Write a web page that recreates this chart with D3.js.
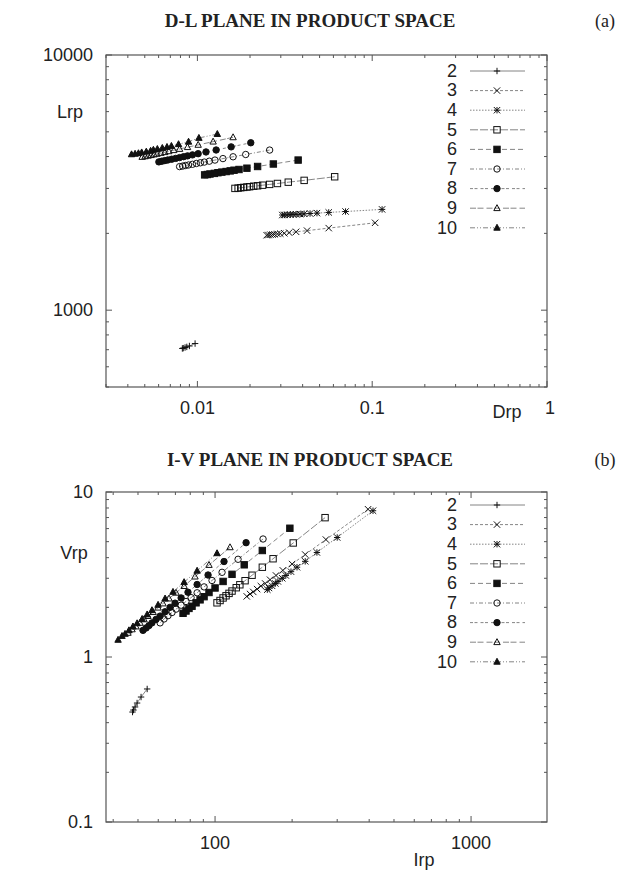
<!DOCTYPE html>
<html>
<head>
<meta charset="utf-8">
<script src="https://cdn.jsdelivr.net/npm/d3@7"></script>
<style>
  body { margin: 0; background: #fff; }
  svg text { font-family: "Liberation Sans", Arial, sans-serif; fill: #222; }
  svg text.title { font-family: "Liberation Serif", "Times New Roman", serif; font-weight: bold; }
  svg text.tag { font-family: "Liberation Serif", "Times New Roman", serif; font-weight: normal; }
</style>
</head>
<body>
<svg id="fig" width="620" height="871"></svg>
<script>
// ------------------------------------------------------------
// Series (n = 2..10)
// ------------------------------------------------------------
const SERIES = ['2', '3', '4', '5', '6', '7', '8', '9', '10'];

// (a) D-L plane
const drp = [
  [0.0097, 0.0090, 0.0087, 0.0085, 0.0083, 0.0082],
  [0.1039, 0.0564, 0.0424, 0.0367, 0.0335, 0.0314, 0.0298, 0.0287, 0.0276, 0.0269, 0.0262, 0.0255, 0.0249],
  [0.1139, 0.0704, 0.0564, 0.0483, 0.0441, 0.0408, 0.0387, 0.0367, 0.0353, 0.0340, 0.0327, 0.0314, 0.0306],
  [0.0610, 0.0408, 0.0331, 0.0287, 0.0259, 0.0236, 0.0221, 0.0210, 0.0199, 0.0192, 0.0184, 0.0177, 0.0171, 0.0164],
  [0.0377, 0.0272, 0.0221, 0.0192, 0.0173, 0.0162, 0.0154, 0.0146, 0.0138, 0.0131, 0.0125, 0.0118, 0.0114, 0.0110],
  [0.0259, 0.0189, 0.0160, 0.0140, 0.0126, 0.0117, 0.01095, 0.0104, 0.00987, 0.00937, 0.0089, 0.00855, 0.00823, 0.00791],
  [0.0202, 0.0156, 0.0128, 0.0112, 0.0101, 0.00937, 0.00878, 0.00834, 0.00791, 0.00751, 0.00713, 0.00677, 0.00651, 0.00626, 0.00602],
  [0.0160, 0.0123, 0.0101, 0.00878, 0.00791, 0.00732, 0.00686, 0.00651, 0.00618, 0.00587, 0.00564, 0.00543, 0.00522, 0.00502, 0.00483],
  [0.0130, 0.0102, 0.0089, 0.0078, 0.0071, 0.0067, 0.0063, 0.0059, 0.0056, 0.0054, 0.0051, 0.0048, 0.0046, 0.0044, 0.0042]
];
const lrp = [
  [740, 724, 718, 714, 710, 708],
  [2200, 2097, 2050, 2028, 2013, 2002, 1995, 1990, 1983, 1979, 1976, 1970, 1967],
  [2483, 2436, 2416, 2401, 2392, 2386, 2379, 2375, 2373, 2369, 2364, 2362, 2360],
  [3333, 3226, 3174, 3137, 3111, 3089, 3072, 3061, 3047, 3039, 3028, 3020, 3009, 3001],
  [3875, 3740, 3657, 3601, 3559, 3536, 3514, 3494, 3476, 3457, 3436, 3417, 3402, 3390],
  [4241, 4075, 3992, 3927, 3875, 3836, 3805, 3781, 3757, 3730, 3707, 3690, 3670, 3653],
  [4530, 4365, 4244, 4169, 4105, 4061, 4024, 3995, 3963, 3934, 3906, 3878, 3857, 3836, 3812],
  [4757, 4575, 4444, 4353, 4283, 4236, 4194, 4160, 4131, 4097, 4075, 4050, 4028, 4006, 3985],
  [4900, 4730, 4570, 4470, 4400, 4360, 4320, 4280, 4250, 4210, 4180, 4150, 4120, 4100, 4080]
];

// (b) I-V plane
const irp = [
  [54.3, 51.4, 49.6, 48.7, 48.0, 47.6],
  [396, 271, 225, 200, 184, 173, 164, 157, 151, 146, 141, 137, 133],
  [414, 300, 250, 225, 209, 198, 189, 183, 176, 172, 167, 162.5, 160],
  [269, 202, 168.5, 153, 139.5, 131, 125, 121, 116.5, 113.4, 110.4, 107.5, 104.6, 101.8],
  [196, 153, 130, 116.5, 107.5, 100, 94.7, 90.6, 87.4, 84.3, 81.3, 79.1, 77.0, 75.0],
  [154, 123, 106.5, 97.3, 90.6, 85.1, 80.6, 77.0, 73.7, 70.4, 67.9, 65.5, 63.2, 61.0],
  [132.2, 108.4, 93.9, 85.1, 78.4, 73.7, 69.8, 66.7, 63.8, 61.0, 58.8, 56.7, 55.2, 53.8, 52.3],
  [114.4, 94.7, 83.5, 75.7, 70.4, 66.1, 62.6, 59.9, 57.3, 54.7, 52.8, 50.9, 49.1, 47.4, 45.7],
  [101.8, 85.1, 75.7, 68.5, 63.8, 59.9, 56.7, 54.3, 51.9, 49.6, 47.8, 46.1, 44.5, 43.3, 41.8]
];
const vrp = [
  [0.640, 0.572, 0.526, 0.498, 0.477, 0.464],
  [7.86, 5.15, 4.18, 3.66, 3.35, 3.12, 2.94, 2.79, 2.69, 2.58, 2.48, 2.41, 2.33],
  [7.70, 5.30, 4.30, 3.80, 3.50, 3.29, 3.12, 3.00, 2.87, 2.79, 2.70, 2.62, 2.56],
  [6.99, 4.91, 3.94, 3.50, 3.13, 2.90, 2.74, 2.63, 2.51, 2.43, 2.35, 2.28, 2.20, 2.13],
  [6.03, 4.42, 3.62, 3.17, 2.87, 2.62, 2.46, 2.32, 2.22, 2.13, 2.03, 1.97, 1.90, 1.84],
  [5.19, 3.91, 3.26, 2.91, 2.66, 2.45, 2.29, 2.17, 2.06, 1.95, 1.86, 1.78, 1.70, 1.61],
  [4.93, 3.79, 3.14, 2.75, 2.47, 2.28, 2.12, 2.00, 1.88, 1.77, 1.69, 1.61, 1.55, 1.50, 1.45],
  [4.62, 3.61, 3.07, 2.69, 2.45, 2.26, 2.11, 1.99, 1.87, 1.77, 1.69, 1.61, 1.53, 1.47, 1.40],
  [4.25, 3.33, 2.84, 2.48, 2.26, 2.07, 1.92, 1.81, 1.70, 1.60, 1.53, 1.45, 1.38, 1.34, 1.27]
];

// axis ticks / labels
const DL_XLABELS = ['0.01', '0.1', '1'];
const DL_YLABELS = ['1000', '10000'];
const IV_XLABELS = ['100', '1000'];
const IV_YLABELS = ['0.1', '1', '10'];

// gnuplot-like point types and dash patterns
const MARKERS = ['plus', 'cross', 'star', 'square', 'squareFill', 'circle', 'circleFill', 'triangle', 'triangleFill'];
const DASHES = [null, '3,2', '1.5,1.5', '8,2', '5,3', '4,2,1,2', '3,1.5,3,3', '6,1.5,6,3', '5,2,1,2,1,2'];

const svg = d3.select('#fig');

function drawMarker(g, type, x, y) {
  const s = 3.2;
  const stroke = '#111';
  if (type === 'plus') {
    g.append('path').attr('d', `M${x - s},${y}H${x + s}M${x},${y - s}V${y + s}`).attr('stroke', stroke).attr('fill', 'none');
  } else if (type === 'cross') {
    g.append('path').attr('d', `M${x - s},${y - s}L${x + s},${y + s}M${x - s},${y + s}L${x + s},${y - s}`).attr('stroke', stroke).attr('fill', 'none');
  } else if (type === 'star') {
    g.append('path').attr('d', `M${x - s},${y}H${x + s}M${x},${y - s}V${y + s}M${x - s},${y - s}L${x + s},${y + s}M${x - s},${y + s}L${x + s},${y - s}`).attr('stroke', stroke).attr('fill', 'none');
  } else if (type === 'square' || type === 'squareFill') {
    g.append('rect').attr('x', x - s).attr('y', y - s).attr('width', 2 * s).attr('height', 2 * s)
      .attr('stroke', stroke).attr('fill', type === 'squareFill' ? stroke : 'none');
  } else if (type === 'circle' || type === 'circleFill') {
    g.append('circle').attr('cx', x).attr('cy', y).attr('r', s)
      .attr('stroke', stroke).attr('fill', type === 'circleFill' ? stroke : 'none');
  } else {
    g.append('path').attr('d', `M${x},${y - s * 1.1}L${x + s},${y + s * 0.75}L${x - s},${y + s * 0.75}Z`)
      .attr('stroke', stroke).attr('fill', type === 'triangleFill' ? stroke : 'none');
  }
}

function panel(o) {
  const x = d3.scaleLog().domain(o.xDomain).range([o.left, o.right]);
  const y = d3.scaleLog().domain(o.yDomain).range([o.bottom, o.top]);
  const g = svg.append('g');

  // title
  g.append('text').attr('class', 'title')
    .attr('x', 310).attr('y', o.titleY).attr('text-anchor', 'middle').attr('dominant-baseline', 'middle')
    .attr('font-size', 19).text(o.title);
  g.append('text').attr('class', 'tag')
    .attr('x', 605).attr('y', o.titleY).attr('text-anchor', 'middle').attr('dominant-baseline', 'middle')
    .attr('font-size', 18).text(o.tag);

  // ticks on all four sides
  const isMajor = v => Math.abs(Math.log10(v) - Math.round(Math.log10(v))) < 1e-6;
  const ticks = g.append('g').attr('stroke', '#555').attr('stroke-width', 1);
  x.ticks().forEach(v => {
    const px = x(v), len = isMajor(v) ? 6 : 3;
    ticks.append('line').attr('x1', px).attr('x2', px).attr('y1', o.bottom).attr('y2', o.bottom - len);
    ticks.append('line').attr('x1', px).attr('x2', px).attr('y1', o.top).attr('y2', o.top + len);
  });
  y.ticks().forEach(v => {
    const py = y(v), len = isMajor(v) ? 6 : 3;
    ticks.append('line').attr('y1', py).attr('y2', py).attr('x1', o.left).attr('x2', o.left + len);
    ticks.append('line').attr('y1', py).attr('y2', py).attr('x1', o.right).attr('x2', o.right - len);
  });

  // frame
  g.append('rect').attr('x', o.left).attr('y', o.top)
    .attr('width', o.right - o.left).attr('height', o.bottom - o.top)
    .attr('fill', 'none').attr('stroke', '#555').attr('stroke-width', 1.2);

  // tick labels
  o.xLabels.forEach(t => {
    g.append('text').attr('x', x(+t) + (o.xLabelShift[t] || 0)).attr('y', o.bottom + 22)
      .attr('text-anchor', 'middle').attr('dominant-baseline', 'middle').attr('font-size', 18).text(t);
  });
  o.yLabels.forEach(t => {
    g.append('text').attr('x', o.left - 13).attr('y', y(+t) + 1)
      .attr('text-anchor', 'end').attr('dominant-baseline', 'middle').attr('font-size', 18).text(t);
  });

  // axis names
  g.append('text').attr('x', o.yName[0]).attr('y', o.yName[1]).attr('text-anchor', 'middle')
    .attr('dominant-baseline', 'middle').attr('font-size', 18).text(o.yName[2]);
  g.append('text').attr('x', o.xName[0]).attr('y', o.xName[1]).attr('text-anchor', 'middle')
    .attr('dominant-baseline', 'middle').attr('font-size', 18).text(o.xName[2]);

  // series
  const line = d3.line().x(d => x(d[0])).y(d => y(d[1]));
  SERIES.forEach((name, i) => {
    const pts = o.xs[i].map((v, k) => [v, o.ys[i][k]]);
    const sg = g.append('g');
    sg.append('path').attr('d', line(pts)).attr('fill', 'none')
      .attr('stroke', '#666').attr('stroke-width', 0.8)
      .attr('stroke-dasharray', DASHES[i]);
    pts.forEach(p => drawMarker(sg, MARKERS[i], x(p[0]), y(p[1])));
  });

  // legend
  const lg = g.append('g');
  SERIES.forEach((name, i) => {
    const ly = o.legendY + i * 19.6;
    lg.append('text').attr('x', 457).attr('y', ly + 1).attr('text-anchor', 'end')
      .attr('dominant-baseline', 'middle').attr('font-size', 18).text(name);
    lg.append('line').attr('x1', 470).attr('x2', 525).attr('y1', ly).attr('y2', ly)
      .attr('stroke', '#666').attr('stroke-width', 0.8).attr('stroke-dasharray', DASHES[i]);
    drawMarker(lg, MARKERS[i], 497, ly);
  });
}

panel({
  title: 'D-L PLANE IN PRODUCT SPACE', tag: '(a)', titleY: 23,
  left: 106, right: 547, top: 55, bottom: 387,
  xDomain: [0.003, 1], yDomain: [500, 10000],
  xs: drp, ys: lrp,
  xLabels: DL_XLABELS, yLabels: DL_YLABELS, xLabelShift: { '1': 3 },
  xName: [507, 413, 'Drp'], yName: [70, 113, 'Lrp'],
  legendY: 71
});

panel({
  title: 'I-V PLANE IN PRODUCT SPACE', tag: '(b)', titleY: 462,
  left: 106, right: 547, top: 492, bottom: 822,
  xDomain: [37.5, 1980], yDomain: [0.1, 10],
  xs: irp, ys: vrp,
  xLabels: IV_XLABELS, yLabels: IV_YLABELS, xLabelShift: {},
  xName: [424, 861, 'Irp'], yName: [74, 554, 'Vrp'],
  legendY: 505
});
</script>
</body>
</html>
